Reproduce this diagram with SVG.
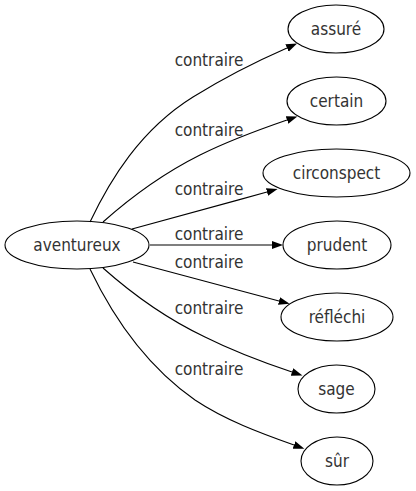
<svg xmlns="http://www.w3.org/2000/svg" width="416" height="491" viewBox="0 0 416 491">
<style>
.n ellipse{fill:none;stroke:#000;stroke-width:1.1}
text{font-family:"DejaVu Sans Condensed","DejaVu Sans",sans-serif;font-size:17px;fill:#333;text-anchor:middle}
.e path{fill:none;stroke:#000;stroke-width:1.1}
</style>
<defs>
<marker id="ah" markerUnits="userSpaceOnUse" markerWidth="12" markerHeight="9" refX="0" refY="4" orient="auto">
<path d="M0,0 L11,4 L0,8 z" fill="#000"/>
</marker>
</defs>
<rect width="416" height="491" fill="#fff"/>
<g id="edges" class="e">
<path d="M90,222 C110,180 140,130 193,97 C222,79 255,62 287,48" marker-end="url(#ah)"/>
<path d="M103,222 C130,198 160,175 200,155 C228,141 258,130 287,120" marker-end="url(#ah)"/>
<path d="M132,229 C170,219 220,205 267,192" marker-end="url(#ah)"/>
<path d="M150,245 L272,245" marker-end="url(#ah)"/>
<path d="M133,262 C175,273 230,288 279,301" marker-end="url(#ah)"/>
<path d="M103,268 C130,292 165,318 205,337 C235,352 262,362 292,372" marker-end="url(#ah)"/>
<path d="M90,269 C112,315 145,365 195,400 C225,420 260,433 294,445" marker-end="url(#ah)"/>
<text x="209" y="66">contraire</text>
<text x="209" y="136">contraire</text>
<text x="209" y="195">contraire</text>
<text x="209" y="240">contraire</text>
<text x="209" y="268">contraire</text>
<text x="209" y="314">contraire</text>
<text x="209" y="375">contraire</text>
</g>
<g id="aventureux" class="n"><ellipse cx="77" cy="245" rx="72" ry="24"/><text x="77" y="251">aventureux</text></g>
<g id="assure" class="n"><ellipse cx="336" cy="29" rx="48" ry="24"/><text x="336" y="35">assuré</text></g>
<g id="certain" class="n"><ellipse cx="336.5" cy="101" rx="49.5" ry="24"/><text x="336.5" y="107">certain</text></g>
<g id="circonspect" class="n"><ellipse cx="336.5" cy="173" rx="73.5" ry="24"/><text x="336.5" y="179">circonspect</text></g>
<g id="prudent" class="n"><ellipse cx="337" cy="245" rx="54" ry="24"/><text x="337" y="251">prudent</text></g>
<g id="reflechi" class="n"><ellipse cx="337" cy="317" rx="56" ry="24"/><text x="337" y="323">réfléchi</text></g>
<g id="sage" class="n"><ellipse cx="336.5" cy="389" rx="38.5" ry="24"/><text x="336.5" y="395">sage</text></g>
<g id="sur" class="n"><ellipse cx="337" cy="461" rx="36" ry="24"/><text x="337" y="467">sûr</text></g>
</svg>
